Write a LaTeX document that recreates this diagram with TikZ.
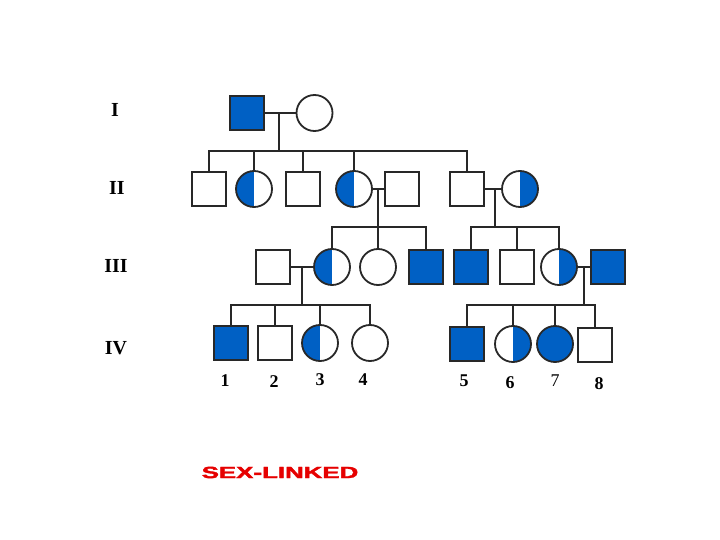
\documentclass[tikz,border=0pt]{standalone}
\usepackage{fontspec}
\setmainfont{Liberation Serif}
\newfontfamily\titlefont[FakeBold=2]{Liberation Sans Bold}
\definecolor{pblue}{RGB}{0,96,196}
\definecolor{pline}{RGB}{40,40,40}
\definecolor{pred}{RGB}{230,0,0}
\begin{document}
\begin{tikzpicture}[x=1bp,y=-1bp,
  person/.style={draw=pline,line width=1.8bp,inner sep=0pt},
  sq/.style={person,rectangle,minimum size=34bp},
  ci/.style={person,circle,minimum size=36bp},
  aff/.style={fill=pblue},
  carL/.style={path picture={\fill[pblue] (path picture bounding box.north west) rectangle (path picture bounding box.south);}},
  carR/.style={path picture={\fill[pblue] (path picture bounding box.north) rectangle (path picture bounding box.south east);}},
  link/.style={draw=pline,line width=2bp},
  gen/.style={font=\fontsize{20}{20}\selectfont\bfseries},
  num/.style={font=\fontsize{18}{18}\selectfont\bfseries},
]
\useasboundingbox (0,0) rectangle (720,540);
\fill[white] (0,0) rectangle (720,540);

% generation labels
\node[gen] (gI) at (115,110) {I};
\node[gen] (gII) at (117,188) {II};
\node[gen] (gIII) at (116,266) {III};
\node[gen] (gIV) at (116,348) {IV};

% Generation I
\node[sq,aff] (I1) at (247,113) {};
\node[ci] (I2) at (314.5,113) {};
\coordinate (m1) at (279,113);
\coordinate (s1) at (279,151);

% Generation II
\node[sq] (II1) at (209,189) {};
\node[ci,carL] (II2) at (254,189) {};
\node[sq] (II3) at (303,189) {};
\node[ci,carL] (II4) at (354,189) {};
\node[sq] (II5) at (402,189) {};
\node[sq] (II6) at (467,189) {};
\node[ci,carR] (II7) at (520,189) {};
\coordinate (m2) at (378,189);
\coordinate (s2) at (378,227);
\coordinate (m3) at (495,189);
\coordinate (s3) at (495,227);

% Generation III
\node[sq] (III1) at (273,267) {};
\node[ci,carL] (III2) at (332,267) {};
\node[ci] (III3) at (378,267) {};
\node[sq,aff] (III4) at (426,267) {};
\node[sq,aff] (III5) at (471,267) {};
\node[sq] (III6) at (517,267) {};
\node[ci,carR] (III7) at (559,267) {};
\node[sq,aff] (III8) at (608,267) {};
\coordinate (m4) at (302,267);
\coordinate (s4) at (302,305);
\coordinate (m5) at (584,267);
\coordinate (s5) at (584,305);

% Generation IV
\node[sq,aff] (IV1) at (231,343) {};
\node[sq] (IV2) at (275,343) {};
\node[ci,carL] (IV3) at (320,343) {};
\node[ci] (IV4) at (370,343) {};
\node[sq,aff] (IV5) at (467,344) {};
\node[ci,carR] (IV6) at (513,344) {};
\node[ci,aff] (IV7) at (555,344) {};
\node[sq] (IV8) at (595,345) {};

% numbers
\node[num] (n1) at (225,381) {1};
\node[num] (n2) at (274,382) {2};
\node[num] (n3) at (320,380) {3};
\node[num] (n4) at (363,380) {4};
\node[num] (n5) at (464,381) {5};
\node[num] (n6) at (510,383) {6};
\node[num,font=\fontsize{18}{18}\selectfont] (n7) at (555,381) {7};
\node[num] (n8) at (599,384) {8};

% connectors
\draw[link] (I1) -- (I2);
\draw[link] (m1) -- (s1);
\foreach \c in {II1,II2,II3,II4,II6} \draw[link] (\c.north) |- (s1);

\draw[link] (II4) -- (II5);
\draw[link] (m2) -- (s2);
\foreach \c in {III2,III3,III4} \draw[link] (\c.north) |- (s2);

\draw[link] (II6) -- (II7);
\draw[link] (m3) -- (s3);
\foreach \c in {III5,III6,III7} \draw[link] (\c.north) |- (s3);

\draw[link] (III1) -- (III2);
\draw[link] (m4) -- (s4);
\foreach \c in {IV1,IV2,IV3,IV4} \draw[link] (\c.north) |- (s4);

\draw[link] (III7) -- (III8);
\draw[link] (m5) -- (s5);
\foreach \c in {IV5,IV6,IV7,IV8} \draw[link] (\c.north) |- (s5);

% title
\node[font=\titlefont\fontsize{22}{22}\selectfont,text=pred,xscale=1.18,yscale=0.74] (title) at (280,472.5) {SEX-LINKED};
\end{tikzpicture}
\end{document}
